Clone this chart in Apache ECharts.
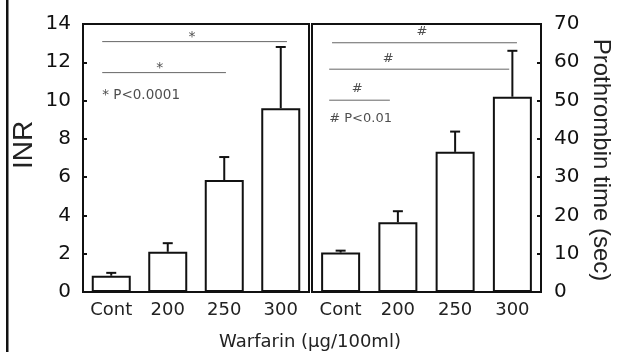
<!DOCTYPE html>
<html>
<head>
<meta charset="utf-8">
<script src="https://cdn.jsdelivr.net/npm/echarts@6/dist/echarts.min.js"></script>
<style>html,body{margin:0;padding:0;background:#fff;}#c{width:621px;height:352px;}</style>
</head>
<body>
<div id="c"></div>
<script>
const categories = ['Cont', '200', '250', '300'];
const inrMean = [0.85, 2.1, 5.85, 9.6];
const inrErrTop = [1.0, 2.55, 7.05, 12.8];
const ptMean = [10.3, 18.2, 36.6, 51.0];
const ptErrTop = [10.8, 21.1, 41.9, 63.0];
// significance lines: [xStart, xEnd, y]
const inrSigLines = [[-0.16, 3.11, 13.08], [-0.16, 2.03, 11.46]];
const inrSigMarks = [[1.43, 13.32, '*'], [0.86, 11.7, '*']];
const inrNote = [[-0.16, 10.24, '* P<0.0001']];
const ptSigLines = [[-0.15, 3.08, 65.1], [-0.2, 2.945, 58.2], [-0.2, 0.86, 50.1]];
const ptSigMarks = [[1.42, 67.9, '#'], [0.83, 60.9, '#'], [0.29, 53.1, '#']];
const ptNote = [[-0.2, 45.4, '# P<0.01']];
const leftTitle = 'INR';
const rightTitle = 'Prothrombin time (sec)';
const xTitle = 'Warfarin (µg/100ml)';

const FONT = "'DejaVu Sans', sans-serif";
const FONT2 = "'Liberation Sans', Arial, sans-serif";
const chart = echarts.init(document.getElementById('c'));

function errSeries(means, tops, xi, yi) {
  return {
    type: 'custom', xAxisIndex: xi, yAxisIndex: yi, z: 5,
    data: means.map((m, i) => [i, m, tops[i]]),
    renderItem: function (params, api) {
      const p0 = api.coord([api.value(0), api.value(1)]);
      const p1 = api.coord([api.value(0), api.value(2)]);
      return {
        type: 'group',
        children: [
          { type: 'line', shape: { x1: p0[0], y1: p0[1], x2: p1[0], y2: p1[1] }, style: { stroke: '#111', lineWidth: 2 } },
          { type: 'line', shape: { x1: p1[0] - 5, y1: p1[1], x2: p1[0] + 5, y2: p1[1] }, style: { stroke: '#111', lineWidth: 2 } }
        ]
      };
    }
  };
}
function sigLineSeries(lines, xi, yi) {
  return lines.map(l => ({
    type: 'line', xAxisIndex: xi, yAxisIndex: yi, symbol: 'none', silent: true,
    lineStyle: { color: '#666', width: 1 },
    data: [[l[0], l[2]], [l[1], l[2]]]
  }));
}
function textSeries(items, xi, yi, size, left) {
  return {
    type: 'scatter', xAxisIndex: xi, yAxisIndex: yi, symbolSize: 0.1, silent: true,
    itemStyle: { color: 'rgba(0,0,0,0)' },
    data: items.map(t => ({ value: [t[0], t[1]], name: t[2] })),
    label: {
      show: true, formatter: p => p.name, color: '#222', fontSize: size, fontFamily: FONT,
      position: left ? 'right' : 'inside', distance: 0, align: left ? 'left' : 'center', verticalAlign: 'middle'
    }
  };
}

const catAxis = (gi) => ({
  type: 'category', gridIndex: gi, data: categories,
  axisLine: { show: true, onZero: false, lineStyle: { color: '#111', width: 2 } },
  axisTick: { show: false },
  axisLabel: { color: '#222', fontSize: 18, fontFamily: FONT, margin: 9 }
});
const valX = (gi) => ({ type: 'value', gridIndex: gi, min: -0.5, max: 3.5, show: false });

const option = {
  animation: false,
  grid: [
    { left: 83, top: 24, width: 226, height: 268, show: true, borderColor: '#111', borderWidth: 2 },
    { left: 312, top: 24, width: 229, height: 268, show: true, borderColor: '#111', borderWidth: 2 }
  ],
  xAxis: [catAxis(0), catAxis(1), valX(0), valX(1)],
  yAxis: [
    { type: 'value', gridIndex: 0, min: 0, max: 14, interval: 2, position: 'left',
      axisLine: { show: true, onZero: false, lineStyle: { color: '#111', width: 2 } },
      axisTick: { show: true, inside: true, length: 4, lineStyle: { color: '#111', width: 2 } },
      splitLine: { show: false },
      axisLabel: { color: '#111', fontSize: 20, fontFamily: FONT, margin: 12 } },
    { type: 'value', gridIndex: 1, min: 0, max: 70, interval: 10, position: 'right',
      axisLine: { show: true, onZero: false, lineStyle: { color: '#111', width: 2 } },
      axisTick: { show: true, inside: true, length: 4, lineStyle: { color: '#111', width: 2 } },
      splitLine: { show: false },
      axisLabel: { color: '#111', fontSize: 20, fontFamily: FONT, margin: 13 } }
  ],
  graphic: [
    { type: 'rect', shape: { x: 6, y: 0, width: 2.5, height: 352 }, style: { fill: '#111' } },
    { type: 'text', x: 24, y: 145, rotation: Math.PI / 2,
      style: { text: leftTitle, fontSize: 28, fontFamily: FONT2, fill: '#222', align: 'center', verticalAlign: 'middle' } },
    { type: 'text', x: 601, y: 160, rotation: -Math.PI / 2,
      style: { text: rightTitle, fontSize: 24, fontFamily: FONT2, fill: '#222', align: 'center', verticalAlign: 'middle' } },
    { type: 'text', x: 310, y: 342,
      style: { text: xTitle, fontSize: 18, fontFamily: FONT, fill: '#222', align: 'center', verticalAlign: 'middle' } }
  ],
  series: [
    { type: 'bar', xAxisIndex: 0, yAxisIndex: 0, data: inrMean, barWidth: 39,
      itemStyle: { color: '#fff', borderColor: '#111', borderWidth: 2 } },
    { type: 'bar', xAxisIndex: 1, yAxisIndex: 1, data: ptMean, barWidth: 39,
      itemStyle: { color: '#fff', borderColor: '#111', borderWidth: 2 } },
    errSeries(inrMean, inrErrTop, 0, 0),
    errSeries(ptMean, ptErrTop, 1, 1),
    ...sigLineSeries(inrSigLines, 2, 0),
    ...sigLineSeries(ptSigLines, 3, 1),
    textSeries(inrSigMarks, 2, 0, 14, false),
    textSeries(ptSigMarks, 3, 1, 13, false),
    textSeries(inrNote, 2, 0, 13.5, true),
    textSeries(ptNote, 3, 1, 13, true)
  ]
};
chart.setOption(option);
</script>
</body>
</html>
